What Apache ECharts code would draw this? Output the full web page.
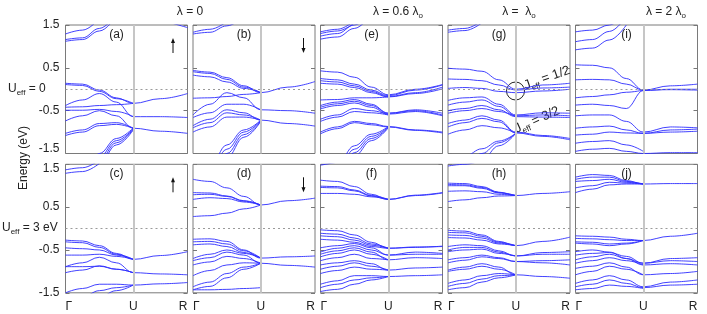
<!DOCTYPE html>
<html><head><meta charset="utf-8">
<script src="https://cdn.jsdelivr.net/npm/echarts@6/dist/echarts.min.js"></script>
<style>html,body{margin:0;padding:0;background:#fff}#c{width:707px;height:314px}</style>
</head><body><div id="c"></div>
<script>
// k-path positions: Γ=0, U=1, R=1.8
const kPoints = [0, 0.25, 0.5, 0.75, 1, 1.4, 1.8];
const kTickValues = [0, 1, 1.8];
const kTickLabels = ['Γ', 'U', 'R'];
const energyTicks = [-1.5, -0.5, 0.5, 1.5];
const columnTitles = ['λ = 0', 'λ = 0.6 λ', 'λ =  λ', 'λ = 2 λ'];
const rowTitles = ['= 0', '= 3 eV'];

// bands, values in eV at kPoints (null = outside)
const bandsA = [
  [1.16, 1.20, 1.42, 1.75, null, null, null],
  [1.12, 1.16, 1.36, 1.70, null, null, null],
  [1.29, 1.38, 1.65, null, null, null, null],
  [null, null, null, null, null, 1.62, 1.44],
  [0.14, 0.12, -0.02, -0.20, -0.33, -0.22, -0.10],
  [0.11, 0.09, -0.05, -0.22, -0.33, null, null],
  [-0.42, -0.41, -0.38, -0.36, -0.33, null, null],
  [-0.38, -0.25, -0.10, -0.30, -0.64, -0.64, -0.66],
  [-0.49, -0.49, -0.47, -0.52, -0.64, null, null],
  [-0.74, -0.62, -0.50, -0.62, -0.91, -0.98, -1.03],
  [-1.03, -0.95, -0.80, -0.78, -0.91, null, null],
  [-1.08, -1.00, -0.85, -0.82, -0.91, null, null],
  [-2.60, -2.05, -1.50, -1.15, -0.90, null, null],
  [-2.70, -2.15, -1.58, -1.20, -0.92, null, null],
  [-2.80, -2.25, -1.66, -1.25, -0.93, null, null],
  [-2.90, -2.35, -1.75, -1.30, -0.95, null, null]
];
const bandsB = [
  [1.33, 1.40, 1.58, null, null, null, null],
  [1.29, 1.33, 1.48, 1.70, null, null, null],
  [0.44, 0.40, 0.27, 0.08, -0.08, 0.05, 0.18],
  [0.41, 0.37, 0.23, 0.05, -0.08, null, null],
  [0.33, 0.29, 0.17, 0.02, -0.08, null, null],
  [-0.21, -0.20, -0.17, -0.12, -0.08, null, null],
  [-0.60, -0.35, -0.08, -0.20, -0.48, -0.50, -0.56],
  [-0.66, -0.55, -0.35, -0.35, -0.48, null, null],
  [-0.85, -0.70, -0.48, -0.55, -0.72, -0.80, -0.86],
  [-0.90, -0.78, -0.55, -0.60, -0.72, null, null],
  [-1.00, -0.88, -0.65, -0.65, -0.72, null, null],
  [-2.30, -1.80, -1.30, -0.95, -0.72, null, null],
  [-2.45, -1.92, -1.40, -1.00, -0.73, null, null],
  [-2.60, -2.05, -1.50, -1.06, -0.74, null, null],
  [-2.75, -2.18, -1.60, -1.12, -0.75, null, null]
];
const bandsE = [
  [1.34, 1.40, 1.60, null, null, null, null],
  [1.30, 1.36, 1.55, null, null, null, null],
  [1.24, 1.30, 1.50, 1.80, null, null, null],
  [1.17, 1.22, 1.42, 1.75, null, null, null],
  [0.43, 0.40, 0.28, 0.05, -0.13, 0.00, 0.11],
  [0.25, 0.22, 0.12, -0.02, -0.15, -0.02, 0.10],
  [0.20, 0.17, 0.08, -0.05, -0.17, -0.08, 0.05],
  [0.14, 0.12, 0.04, -0.08, -0.18, -0.10, 0.01],
  [-0.25, -0.24, -0.20, -0.20, -0.18, null, null],
  [-0.38, -0.30, -0.24, -0.35, -0.56, -0.48, -0.56],
  [-0.42, -0.34, -0.28, -0.38, -0.56, -0.50, -0.60],
  [-0.46, -0.38, -0.32, -0.42, -0.58, -0.52, -0.62],
  [-0.70, -0.60, -0.45, -0.50, -0.60, null, null],
  [-0.75, -0.65, -0.52, -0.55, -0.60, null, null],
  [-1.00, -0.88, -0.75, -0.80, -0.87, -0.95, -1.00],
  [-1.04, -0.92, -0.78, -0.83, -0.88, -0.96, -1.02],
  [-2.20, -1.75, -1.32, -1.05, -0.87, null, null],
  [-2.35, -1.87, -1.40, -1.10, -0.88, null, null],
  [-2.50, -2.00, -1.48, -1.15, -0.89, null, null],
  [-2.65, -2.12, -1.56, -1.20, -0.90, null, null]
];
const bandsG = [
  [1.38, 1.42, 1.60, null, null, null, null],
  [1.33, 1.37, 1.55, null, null, null, null],
  [0.49, 0.47, 0.42, 0.22, 0.00, 0.10, 0.14],
  [0.24, 0.23, 0.20, 0.10, -0.02, 0.03, 0.05],
  [0.02, 0.04, 0.02, -0.05, -0.08, -0.04, 0.00],
  [-0.26, -0.20, -0.18, -0.35, -0.60, -0.55, -0.56],
  [-0.37, -0.30, -0.25, -0.40, -0.62, -0.60, -0.62],
  [-0.50, -0.45, -0.38, -0.48, -0.64, -0.65, -0.66],
  [-0.56, -0.50, -0.45, -0.52, -0.64, null, null],
  [-0.80, -0.72, -0.62, -0.72, -1.00, -1.08, -1.15],
  [-0.88, -0.78, -0.68, -0.76, -1.02, -1.10, -1.18],
  [-1.05, -0.95, -0.85, -0.90, -1.03, null, null],
  [-1.70, -1.56, -1.39, -1.21, -1.03, null, null],
  [-1.90, -1.75, -1.50, -1.25, -1.03, null, null],
  [-2.10, -1.95, -1.65, -1.32, -1.03, null, null]
];
const bandsI = [
  [1.34, 1.38, 1.50, 1.80, null, null, null],
  [1.11, 1.16, 1.35, 1.70, null, null, null],
  [0.92, 0.96, 1.15, 1.50, null, null, null],
  [0.57, 0.56, 0.50, 0.25, -0.02, 0.08, 0.12],
  [0.22, 0.23, 0.22, 0.12, -0.02, -0.01, -0.02],
  [-0.20, -0.17, -0.13, -0.07, -0.02, null, null],
  [-0.37, -0.35, -0.38, -0.45, -0.03, 0.00, 0.00],
  [-0.62, -0.60, -0.60, -0.75, -1.00, -0.88, -0.90],
  [-0.91, -0.88, -0.86, -0.95, -1.03, -0.95, -0.93],
  [-1.07, -1.05, -1.00, -1.02, -1.03, -1.00, -0.98],
  [-1.26, -1.22, -1.20, -1.30, -1.45, null, null],
  [-1.45, -1.40, -1.38, -1.45, -1.50, -1.48, -1.48]
];
const bandsC = [
  [1.37, 1.42, 1.60, null, null, null, null],
  [1.29, 1.33, 1.52, null, null, null, null],
  [-0.27, -0.29, -0.40, -0.58, -0.72, -0.63, -0.54],
  [-0.31, -0.33, -0.44, -0.60, -0.72, null, null],
  [-0.45, -0.47, -0.50, -0.62, -0.72, null, null],
  [-0.62, -0.62, -0.60, -0.65, -0.72, null, null],
  [-0.89, -0.80, -0.67, -0.80, -1.03, -1.06, -1.08],
  [-0.89, -0.89, -0.88, -0.95, -1.03, null, null],
  [-1.03, -0.97, -0.87, -0.95, -1.03, null, null],
  [-1.50, -1.40, -1.30, -1.30, -1.32, -1.29, -1.26],
  [-1.80, -1.60, -1.45, -1.38, -1.32, null, null],
  [-2.00, -1.80, -1.60, -1.45, -1.32, null, null]
];
const bandsD = [
  [1.15, 1.10, 0.95, 0.75, 0.55, 0.65, 0.71],
  [0.84, 0.83, 0.76, 0.65, 0.55, null, null],
  [0.79, 0.80, 0.75, 0.64, 0.55, null, null],
  [0.68, 0.72, 0.70, 0.62, 0.55, null, null],
  [0.28, 0.30, 0.36, 0.46, 0.55, null, null],
  [-0.25, -0.24, -0.30, -0.50, -0.69, -0.66, -0.64],
  [-0.31, -0.30, -0.36, -0.52, -0.69, null, null],
  [-0.38, -0.36, -0.42, -0.56, -0.69, null, null],
  [-0.70, -0.60, -0.50, -0.58, -0.69, null, null],
  [-0.75, -0.68, -0.55, -0.62, -0.81, -0.86, -0.90],
  [-0.85, -0.78, -0.65, -0.70, -0.81, null, null],
  [-1.10, -0.98, -0.85, -0.80, -0.81, null, null],
  [-1.36, -1.25, -1.05, -0.90, -0.81, null, null],
  [-1.43, -1.35, -1.15, -0.95, -0.81, null, null],
  [-1.43, -1.43, -1.42, -1.40, -1.38, null, null]
];
const bandsF = [
  [1.48, 1.55, null, null, null, null, null],
  [1.13, 1.10, 0.98, 0.80, 0.68, 0.78, 0.84],
  [0.99, 0.98, 0.90, 0.77, 0.68, null, null],
  [0.96, 0.95, 0.88, 0.76, 0.68, 0.77, 0.83],
  [0.82, 0.82, 0.80, 0.74, 0.68, null, null],
  [-0.03, -0.05, -0.15, -0.32, -0.46, -0.44, -0.41],
  [-0.11, -0.13, -0.22, -0.36, -0.46, null, null],
  [-0.17, -0.19, -0.27, -0.39, -0.46, null, null],
  [-0.25, -0.27, -0.32, -0.42, -0.46, -0.43, -0.42],
  [-0.45, -0.40, -0.35, -0.45, -0.62, -0.55, -0.58],
  [-0.55, -0.46, -0.40, -0.50, -0.62, -0.60, -0.60],
  [-0.60, -0.52, -0.45, -0.55, -0.73, -0.68, -0.70],
  [-0.66, -0.58, -0.50, -0.60, -0.73, null, null],
  [-0.75, -0.68, -0.60, -0.70, -0.73, null, null],
  [-0.85, -0.80, -0.75, -0.82, -0.97, -0.92, -0.90],
  [-0.95, -0.88, -0.80, -0.88, -0.97, null, null],
  [-1.05, -0.98, -0.90, -0.95, -0.97, null, null],
  [-1.30, -1.22, -1.10, -1.10, -1.12, -1.10, -1.08],
  [-1.38, -1.30, -1.20, -1.15, -1.12, null, null],
  [-1.47, -1.42, -1.30, -1.20, -1.12, null, null]
];
const bandsH = [
  [1.46, 1.50, 1.60, null, null, null, null],
  [1.06, 1.05, 0.98, 0.85, 0.77, 0.82, 0.86],
  [1.03, 1.02, 0.96, 0.84, 0.77, null, null],
  [1.00, 1.00, 0.94, 0.83, 0.77, null, null],
  [0.87, 0.88, 0.86, 0.80, 0.77, null, null],
  [0.63, 0.67, 0.72, 0.76, 0.77, null, null],
  [-0.04, -0.06, -0.15, -0.30, -0.40, -0.30, -0.20],
  [-0.09, -0.10, -0.18, -0.32, -0.40, null, null],
  [-0.15, -0.16, -0.22, -0.34, -0.40, null, null],
  [-0.21, -0.22, -0.27, -0.36, -0.40, null, null],
  [-0.42, -0.38, -0.40, -0.52, -0.64, -0.56, -0.54],
  [-0.50, -0.44, -0.44, -0.55, -0.64, -0.60, -0.60],
  [-0.54, -0.50, -0.48, -0.58, -0.64, null, null],
  [-0.73, -0.68, -0.62, -0.68, -0.77, -0.75, -0.73],
  [-0.80, -0.74, -0.66, -0.70, -0.77, -0.80, -0.85],
  [-0.97, -0.90, -0.82, -0.90, -1.08, -1.12, -1.16],
  [-1.00, -0.95, -0.88, -0.95, -1.08, null, null],
  [-1.28, -1.20, -1.10, -1.05, -1.08, null, null],
  [-1.35, -1.28, -1.18, -1.10, -1.08, null, null],
  [-1.43, -1.38, -1.25, -1.15, -1.08, null, null]
];
const bandsJ = [
  [1.20, 1.26, 1.24, 1.12, 1.04, 1.05, 1.05],
  [1.15, 1.20, 1.20, 1.10, 1.04, null, null],
  [1.10, 1.12, 1.15, 1.08, 1.04, null, null],
  [0.95, 1.00, 1.08, 1.06, 1.04, null, null],
  [0.84, 0.92, 1.02, 1.04, 1.04, null, null],
  [-0.17, -0.18, -0.20, -0.25, -0.28, -0.18, -0.11],
  [-0.23, -0.24, -0.26, -0.28, -0.28, null, null],
  [-0.31, -0.32, -0.36, -0.34, -0.28, null, null],
  [-0.34, -0.36, -0.40, -0.36, -0.28, null, null],
  [-0.54, -0.50, -0.55, -0.70, -0.81, -0.70, -0.68],
  [-0.62, -0.58, -0.56, -0.65, -0.81, -0.75, -0.77],
  [-0.73, -0.66, -0.60, -0.70, -0.85, -0.82, -0.85],
  [-0.81, -0.75, -0.68, -0.75, -0.85, null, null],
  [-0.93, -0.88, -0.80, -0.90, -1.08, -1.05, -1.00],
  [-1.08, -1.00, -0.88, -0.95, -1.08, null, null],
  [-1.28, -1.20, -1.10, -1.20, -1.36, -1.25, -1.20],
  [-1.36, -1.30, -1.20, -1.28, -1.38, -1.32, -1.30],
  [-1.43, -1.40, -1.32, -1.35, -1.40, null, null]
];

const panels = [
  {tag:'(a)', bands:bandsA, row:0, col:0, arrow:'up'},
  {tag:'(b)', bands:bandsB, row:0, col:1, arrow:'down'},
  {tag:'(e)', bands:bandsE, row:0, col:2},
  {tag:'(g)', bands:bandsG, row:0, col:3},
  {tag:'(i)', bands:bandsI, row:0, col:4},
  {tag:'(c)', bands:bandsC, row:1, col:0, arrow:'up'},
  {tag:'(d)', bands:bandsD, row:1, col:1, arrow:'down'},
  {tag:'(f)', bands:bandsF, row:1, col:2},
  {tag:'(h)', bands:bandsH, row:1, col:3},
  {tag:'(j)', bands:bandsJ, row:1, col:4}
];

const FONT = 'Liberation Sans, Arial, sans-serif';
const W = 122, H = 128.5;
const leftOf = c => 65.5 + c * 127.5;
const topOf = r => r === 0 ? 25 : 164.3;
const LINE = 'rgba(45,45,255,0.9)';

const labelRich = {
  n: {fontSize: 12, fontFamily: FONT, color: '#222'},
  up: {fontSize: 12, fontFamily: FONT, color: '#222', padding: [0, 0, 9, 0]},
  dn: {fontSize: 12, fontFamily: FONT, color: '#222', padding: [8, 0, 0, 0]}
};

const grid = [], xAxis = [], yAxis = [], series = [], graphic = [];
panels.forEach((p, i) => {
  const L = leftOf(p.col), T = topOf(p.row);
  grid.push({left: L, top: T, width: W, height: H, show: true, borderColor: '#7a7a7a', borderWidth: 1, backgroundColor: 'transparent'});
  xAxis.push({
    type: 'value', gridIndex: i, min: 0, max: 1.8,
    axisLine: {show: false}, axisTick: {show: false}, splitLine: {show: false},
    axisLabel: {
      show: p.row === 1, customValues: kTickValues,
      formatter: v => kTickLabels[kTickValues.indexOf(v)] || '',
      alignMinLabel: 'left', alignMaxLabel: 'right',
      margin: 8, fontSize: 12, color: '#222', fontFamily: FONT
    }
  });
  const yBase = {
    type: 'value', gridIndex: i, min: -1.5, max: 1.5, interval: 1,
    axisLine: {show: false}, splitLine: {show: false},
    axisTick: {show: true, inside: true, length: 4, lineStyle: {color: '#777'}}
  };
  const row = p.row;
  yAxis.push(Object.assign({}, yBase, {
    position: 'left',
    axisLabel: {show: p.col === 0, margin: 6, rich: labelRich,
      formatter: v => {
        if (energyTicks.indexOf(v) < 0) return '';
        let k = 'n';
        if (row === 0 && v === -1.5) k = 'up';
        if (row === 1 && v === 1.5) k = 'dn';
        return '{' + k + '|' + v + '}';
      }}
  }));
  yAxis.push(Object.assign({}, yBase, {position: 'right', axisLabel: {show: false}}));
  // reference lines
  series.push({
    type: 'line', xAxisIndex: i, yAxisIndex: 2 * i, data: [], z: 1, silent: true,
    markLine: {
      silent: true, symbol: ['none', 'none'], label: {show: false}, animation: false,
      data: [
        {xAxis: 1, lineStyle: {color: '#c6c6c6', width: 2, type: 'solid'}},
        {yAxis: 0, lineStyle: {color: '#9a9a9a', width: 1, type: [2, 3]}}
      ]
    }
  });
  p.bands.forEach(b => {
    const data = [];
    b.forEach((v, j) => { if (v !== null) data.push([kPoints[j], v]); });
    series.push({
      type: 'line', xAxisIndex: i, yAxisIndex: 2 * i, data,
      showSymbol: false, smooth: 0.4, smoothMonotone: 'x', clip: true, z: 3,
      lineStyle: {color: LINE, width: 1}, silent: true, animation: false
    });
  });
  graphic.push({type: 'text', x: L + 51, y: T + 9.5,
    style: {text: p.tag, fill: '#222', font: '12px ' + FONT, align: 'center', verticalAlign: 'middle'}});
  if (p.arrow) {
    const ax = L + (p.col === 0 ? 107.5 : 110.5);
    const y1 = T + 13, y2 = T + 28;
    const up = p.arrow === 'up';
    const tip = up ? y1 : y2, tail = up ? y2 : y1;
    const dir = up ? 1 : -1;
    graphic.push({type: 'line', shape: {x1: ax, y1: tail, x2: ax, y2: tip + dir * 3}, style: {stroke: '#111', lineWidth: 1}});
    graphic.push({type: 'polygon', shape: {points: [[ax - 2, tip + dir * 5], [ax + 2, tip + dir * 5], [ax, tip]]}, style: {fill: '#111'}});
  }
});

const sub = {
  m: {fontSize: 12, fontFamily: FONT, fill: '#222', verticalAlign: 'middle', lineHeight: 16},
  s: {fontSize: 8, fontFamily: FONT, fill: '#222', verticalAlign: 'bottom', lineHeight: 16}
};
// column titles
const titleX = [190, 398, 519, 666];
columnTitles.forEach((t, i) => {
  const txt = i === 0 ? '{m|' + t + '}' : '{m|' + t + '}{s|o}';
  graphic.push({type: 'text', x: titleX[i], y: 12,
    style: {text: txt, rich: sub, align: 'center', verticalAlign: 'middle'}});
});
// row titles
graphic.push({type: 'text', x: 8, y: 89, style: {text: '{m|U}{s|eff}{m| ' + rowTitles[0] + '}', rich: sub, align: 'left', verticalAlign: 'middle'}});
graphic.push({type: 'text', x: 2, y: 228, style: {text: '{m|U}{s|eff}{m| ' + rowTitles[1] + '}', rich: sub, align: 'left', verticalAlign: 'middle'}});
// y-axis name
graphic.push({type: 'text', x: 24, y: 158, rotation: Math.PI / 2,
  style: {text: 'Energy (eV)', font: '12px ' + FONT, fill: '#222', align: 'center', verticalAlign: 'middle'}});
// annotations in (g)
const uG = leftOf(3) + 67.5;
graphic.push({type: 'circle', shape: {cx: uG, cy: 91, r: 9}, style: {fill: 'none', stroke: '#222', lineWidth: 1}});
const jr = {
  m: {fontSize: 13, fontFamily: FONT, fill: '#222', verticalAlign: 'middle', lineHeight: 17},
  s: {fontSize: 8, fontFamily: FONT, fill: '#222', verticalAlign: 'bottom', lineHeight: 17}
};
graphic.push({type: 'text', x: 547, y: 78, rotation: 0.34,
  style: {text: '{m|J}{s|eff}{m| = 1/2}', rich: jr, align: 'center', verticalAlign: 'middle'}});
graphic.push({type: 'text', x: 537, y: 120, rotation: 0.42,
  style: {text: '{m|J}{s|eff}{m| = 3/2}', rich: jr, align: 'center', verticalAlign: 'middle'}});

const chart = echarts.init(document.getElementById('c'), null, {renderer: 'canvas'});
chart.setOption({animation: false, grid, xAxis, yAxis, series, graphic});
</script>
</body></html>
